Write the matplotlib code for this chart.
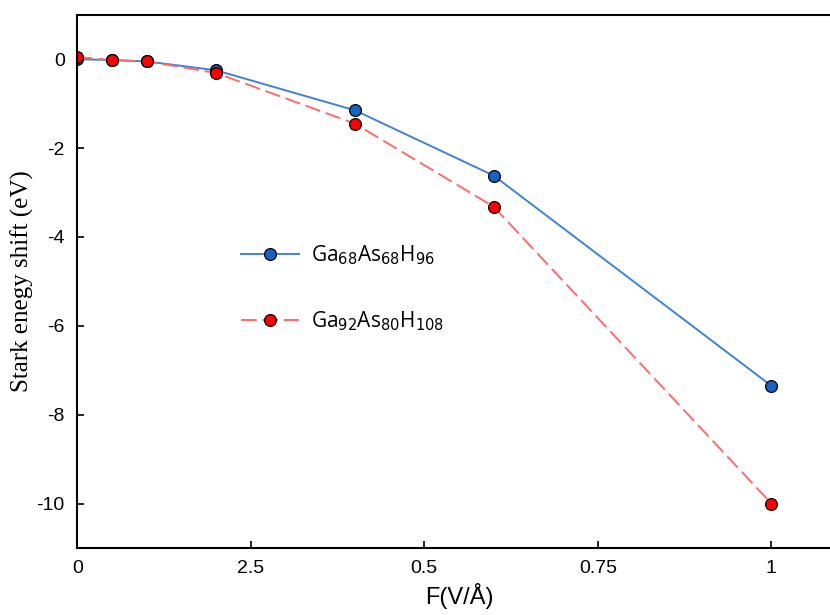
import numpy as np
import matplotlib.pyplot as plt

plt.rcParams["axes.unicode_minus"] = False

field = [0, 0.05, 0.1, 0.2, 0.4, 0.6, 1.0]
shift_68 = [0.0, -0.02, -0.05, -0.25, -1.15, -2.62, -7.35]
shift_92 = [0.05, -0.02, -0.05, -0.31, -1.45, -3.32, -10.0]
xticks = [0, 0.25, 0.5, 0.75, 1]
xtick_labels = ["0", "2.5", "0.5", "0.75", "1"]
yticks = [0, -2, -4, -6, -8, -10]
labels = ["Ga$_{68}$As$_{68}$H$_{96}$", "Ga$_{92}$As$_{80}$H$_{108}$"]

fig = plt.figure(figsize=(8.3, 6.15), dpi=100)
ax = fig.add_axes([0.093, 0.109, 0.92, 0.867])

ax.plot(field, shift_68, c="#3f83d6", lw=1.4, marker="o", ms=8.5,
        mfc="#1763c4", mec="black", mew=0.9, label=labels[0])
ax.plot(field, shift_92, c="#ff6b6b", lw=1.4, ls=(0, (8, 3)), marker="o", ms=8.5,
        mfc="#ff0000", mec="black", mew=0.9, label=labels[1])

ax.set_xlim(0, 1.1)
ax.set_ylim(-11, 1)
ax.set_xticks(xticks)
ax.set_xticklabels(xtick_labels)
ax.set_yticks(yticks)
ax.tick_params(direction="in", length=5, width=1.2, labelsize=14, pad=9)
for t in ax.get_xticklabels() + ax.get_yticklabels():
    t.set_family("Liberation Sans")
for s in ax.spines.values():
    s.set_linewidth(1.5)

ax.set_xlabel("F(V/Å)", family="Liberation Sans", fontsize=17, labelpad=4)
ax.set_ylabel("Stark enegy shift (eV)", family="Liberation Serif", fontsize=18, labelpad=2)

leg = ax.legend(loc="upper left", bbox_to_anchor=(0.215, 0.572), frameon=False,
                borderpad=0, borderaxespad=0,
                handlelength=2.75, handletextpad=0.6, labelspacing=2.05,
                prop={"family": "Open Sans", "size": 15})

plt.savefig("out.png")
